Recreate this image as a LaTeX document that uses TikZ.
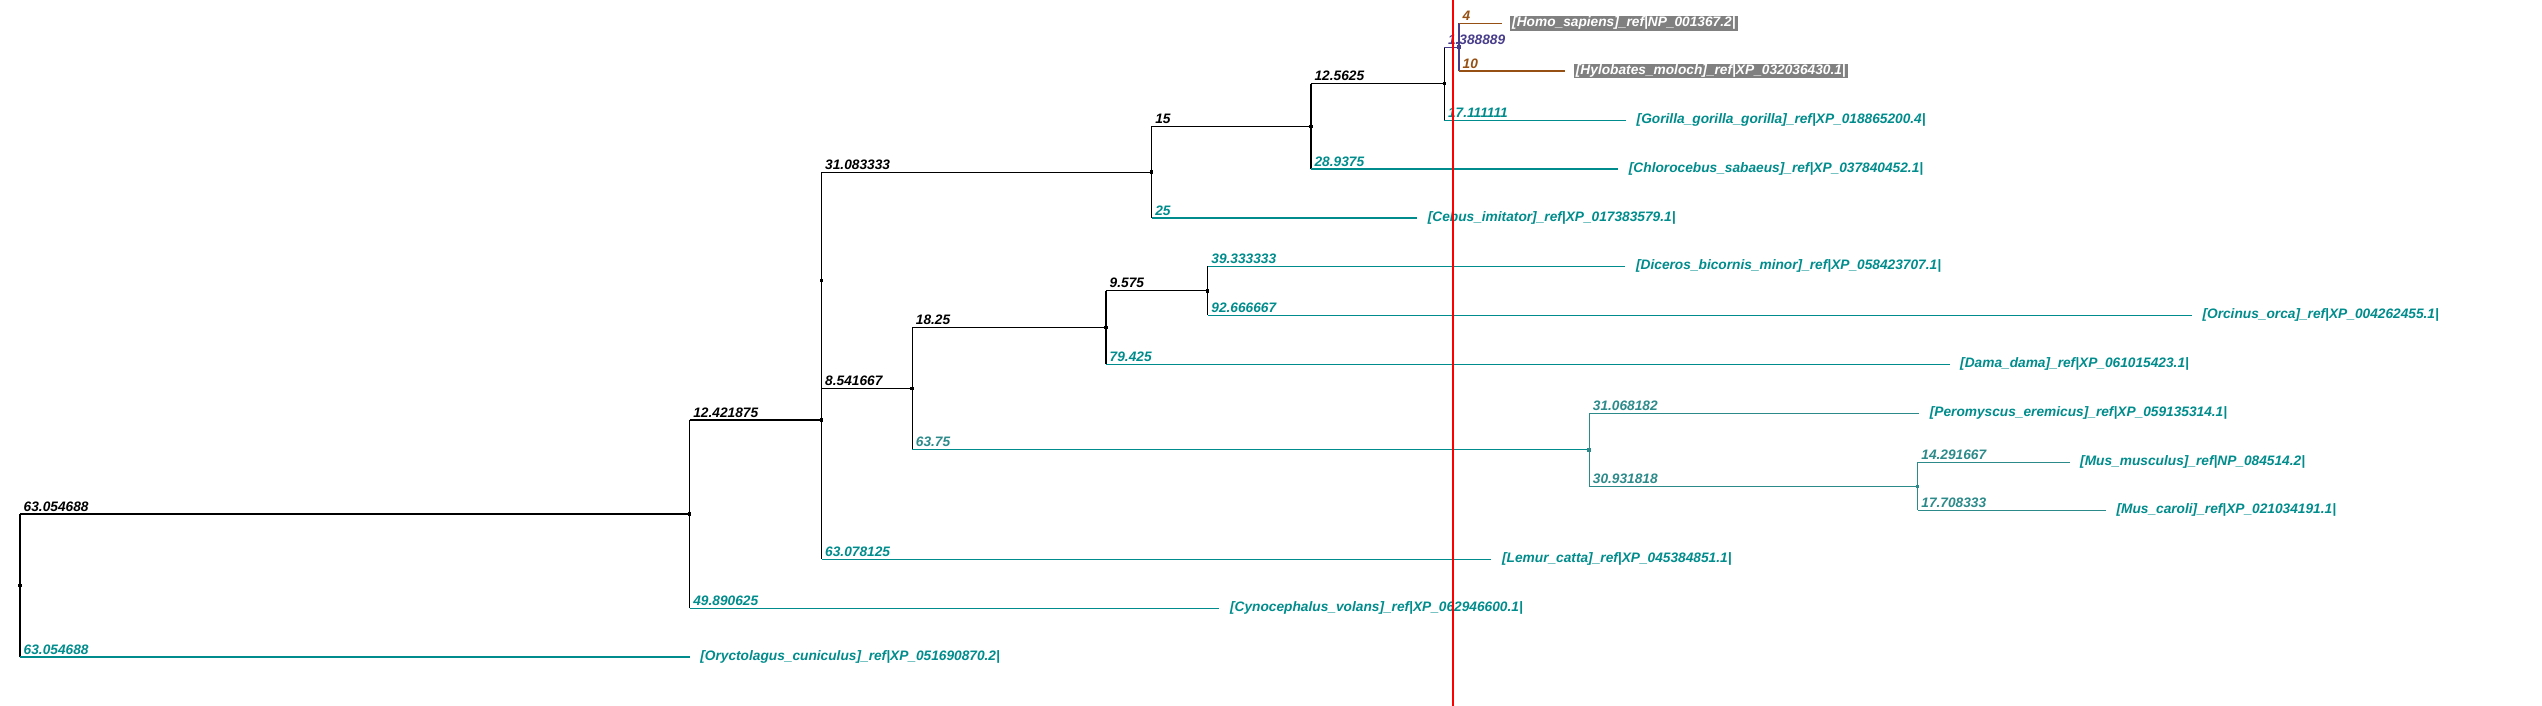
\documentclass[tikz,border=0pt]{standalone}
\usepackage{fontspec}
\setmainfont{Liberation Sans}
\usetikzlibrary{positioning}

\definecolor{leafteal}{RGB}{0,140,140}
\definecolor{mouseteal}{RGB}{45,138,138}
\definecolor{apebrown}{RGB}{150,80,20}
\definecolor{hominid}{RGB}{72,61,139}
\definecolor{tagbg}{RGB}{128,128,128}

\begin{document}
\begin{tikzpicture}[
    x=0.01cm, y=-0.01cm,
    font=\fontsize{3.9}{4.6}\selectfont\bfseries\itshape,
    blk/.style={draw=black, line width=0.35pt},
    tl/.style={draw=leafteal, line width=0.3pt},
    ms/.style={draw=mouseteal, line width=0.3pt},
    hm/.style={draw=hominid, line width=0.3pt},
    br/.style={draw=apebrown, line width=0.3pt},
    blab/.style={anchor=south west, inner xsep=0.03cm, inner ysep=0.02cm},
    leaf/.style={inner xsep=0.02cm, inner ysep=0.01cm, text=leafteal},
    tag/.style={leaf, fill=tagbg, text=white},
    ndot/.style={rectangle, fill=black, inner sep=0pt, minimum size=0.035cm},
    node distance=0.08cm,
]
    \useasboundingbox (0,0) rectangle (2542,706);

    % internal nodes
    \coordinate (root) at (20,585.6);
    \coordinate (n1)   at (689.6,514.1);
    \coordinate (n2)   at (821.5,419.9);
    \coordinate (n3)   at (821.5,280.5);
    \coordinate (n4)   at (1151.6,172.2);
    \coordinate (n5)   at (1310.9,126.4);
    \coordinate (n6)   at (1444.3,83.7);
    \coordinate (n10)  at (1459,47.2);
    \coordinate (n7)   at (912.2,388.7);
    \coordinate (n11)  at (1106,327.6);
    \coordinate (n12)  at (1207.7,290.8);
    \coordinate (n8)   at (1589.2,449.8);
    \coordinate (n9)   at (1917.7,486.3);

    % tips
    \coordinate (homo)   at (1501.5,23.3);
    \coordinate (hylo)   at (1565.2,71);
    \coordinate (gor)    at (1626,120.3);
    \coordinate (chloro) at (1618.2,169);
    \coordinate (cebus)  at (1417.1,218);
    \coordinate (dice)   at (1625.4,266.3);
    \coordinate (orca)   at (2191.8,315.3);
    \coordinate (dama)   at (1949.5,364.3);
    \coordinate (pero)   at (1919.1,413.3);
    \coordinate (musm)   at (2069.5,462.3);
    \coordinate (musc)   at (2105.8,510.3);
    \coordinate (lemur)  at (1491.4,559.3);
    \coordinate (cyno)   at (1219.4,608.3);
    \coordinate (oryct)  at (689.6,657);

    % verticals
    \draw[blk] (root |- n1) -- (root |- oryct);
    \draw[blk] (n1 |- n2) -- (n1 |- cyno);
    \draw[blk] (n2 |- n3) -- (n2 |- lemur);
    \draw[blk] (n3 |- n4) -- (n3 |- n7);
    \draw[blk] (n4 |- n5) -- (n4 |- cebus);
    \draw[blk] (n5 |- n6) -- (n5 |- chloro);
    \draw[blk] (n6 |- n10) -- (n6 |- gor);
    \draw[hm]  (n10 |- homo) -- (n10 |- hylo);
    \draw[blk] (n7 |- n11) -- (n7 |- n8);
    \draw[blk] (n11 |- n12) -- (n11 |- dama);
    \draw[blk] (n12 |- dice) -- (n12 |- orca);
    \draw[ms]  (n8 |- pero) -- (n8 |- n9);
    \draw[ms]  (n9 |- musm) -- (n9 |- musc);

    % horizontals
    \draw[blk] (root |- n1) -- (n1);
    \draw[tl]  (root |- oryct) -- (oryct);
    \draw[blk] (n1 |- n2) -- (n2);
    \draw[tl]  (n1 |- cyno) -- (cyno);
    \draw[tl]  (n2 |- lemur) -- (lemur);
    \draw[blk] (n3 |- n4) -- (n4);
    \draw[blk] (n3 |- n7) -- (n7);
    \draw[blk] (n4 |- n5) -- (n5);
    \draw[tl]  (n4 |- cebus) -- (cebus);
    \draw[blk] (n5 |- n6) -- (n6);
    \draw[tl]  (n5 |- chloro) -- (chloro);
    \draw[hm]  (n6 |- n10) -- (n10);
    \draw[tl]  (n6 |- gor) -- (gor);
    \draw[br]  (n10 |- homo) -- (homo);
    \draw[br]  (n10 |- hylo) -- (hylo);
    \draw[blk] (n7 |- n11) -- (n11);
    \draw[tl]  (n7 |- n8) -- (n8);
    \draw[blk] (n11 |- n12) -- (n12);
    \draw[tl]  (n11 |- dama) -- (dama);
    \draw[tl]  (n12 |- dice) -- (dice);
    \draw[tl]  (n12 |- orca) -- (orca);
    \draw[ms]  (n8 |- pero) -- (pero);
    \draw[ms]  (n8 |- n9) -- (n9);
    \draw[ms]  (n9 |- musm) -- (musm);
    \draw[ms]  (n9 |- musc) -- (musc);

    % node dots
    \node[ndot] (d0)  at (root) {};
    \node[ndot] (d1)  at (n1) {};
    \node[ndot] (d2)  at (n2) {};
    \node[ndot] (d3)  at (n3) {};
    \node[ndot] (d4)  at (n4) {};
    \node[ndot] (d5)  at (n5) {};
    \node[ndot] (d6)  at (n6) {};
    \node[ndot, fill=hominid] (d10) at (n10) {};
    \node[ndot] (d7)  at (n7) {};
    \node[ndot] (d11) at (n11) {};
    \node[ndot] (d12) at (n12) {};
    \node[ndot, fill=mouseteal] (d8) at (n8) {};
    \node[ndot, fill=mouseteal] (d9) at (n9) {};

    % branch lengths
    \node[blab]                  (b1)      at (root |- n1)    {63.054688};
    \node[blab, text=leafteal]   (boryct)  at (root |- oryct) {63.054688};
    \node[blab]                  (b2)      at (n1 |- n2)      {12.421875};
    \node[blab, text=leafteal]   (bcyno)   at (n1 |- cyno)    {49.890625};
    \node[blab, text=leafteal]   (blemur)  at (n2 |- lemur)   {63.078125};
    \node[blab]                  (b4)      at (n3 |- n4)      {31.083333};
    \node[blab]                  (b7)      at (n3 |- n7)      {8.541667};
    \node[blab]                  (b5)      at (n4 |- n5)      {15};
    \node[blab, text=leafteal]   (bcebus)  at (n4 |- cebus)   {25};
    \node[blab]                  (b6)      at (n5 |- n6)      {12.5625};
    \node[blab, text=leafteal]   (bchloro) at (n5 |- chloro)  {28.9375};
    \node[blab, text=hominid]    (b10)     at (n6 |- n10)     {1.388889};
    \node[blab, text=leafteal]   (bgor)    at (n6 |- gor)     {17.111111};
    \node[blab, text=apebrown]   (bhomo)   at (n10 |- homo)   {4};
    \node[blab, text=apebrown]   (bhylo)   at (n10 |- hylo)   {10};
    \node[blab]                  (b11)     at (n7 |- n11)     {18.25};
    \node[blab, text=mouseteal]  (b8)      at (n7 |- n8)      {63.75};
    \node[blab]                  (b12)     at (n11 |- n12)    {9.575};
    \node[blab, text=leafteal]   (bdama)   at (n11 |- dama)   {79.425};
    \node[blab, text=leafteal]   (bdice)   at (n12 |- dice)   {39.333333};
    \node[blab, text=leafteal]   (borca)   at (n12 |- orca)   {92.666667};
    \node[blab, text=mouseteal]  (bpero)   at (n8 |- pero)    {31.068182};
    \node[blab, text=mouseteal]  (b9)      at (n8 |- n9)      {30.931818};
    \node[blab, text=mouseteal]  (bmusm)   at (n9 |- musm)    {14.291667};
    \node[blab, text=mouseteal]  (bmusc)   at (n9 |- musc)    {17.708333};

    % leaf names
    \node[tag,  right=of homo]   (lhomo)   {[Homo\_sapiens]\_ref|NP\_001367.2|};
    \node[tag,  right=of hylo]   (lhylo)   {[Hylobates\_moloch]\_ref|XP\_032036430.1|};
    \node[leaf, right=of gor]    (lgor)    {[Gorilla\_gorilla\_gorilla]\_ref|XP\_018865200.4|};
    \node[leaf, right=of chloro] (lchloro) {[Chlorocebus\_sabaeus]\_ref|XP\_037840452.1|};
    \node[leaf, right=of cebus]  (lcebus)  {[Cebus\_imitator]\_ref|XP\_017383579.1|};
    \node[leaf, right=of dice]   (ldice)   {[Diceros\_bicornis\_minor]\_ref|XP\_058423707.1|};
    \node[leaf, right=of orca]   (lorca)   {[Orcinus\_orca]\_ref|XP\_004262455.1|};
    \node[leaf, right=of dama]   (ldama)   {[Dama\_dama]\_ref|XP\_061015423.1|};
    \node[leaf, right=of pero]   (lpero)   {[Peromyscus\_eremicus]\_ref|XP\_059135314.1|};
    \node[leaf, right=of musm]   (lmusm)   {[Mus\_musculus]\_ref|NP\_084514.2|};
    \node[leaf, right=of musc]   (lmusc)   {[Mus\_caroli]\_ref|XP\_021034191.1|};
    \node[leaf, right=of lemur]  (llemur)  {[Lemur\_catta]\_ref|XP\_045384851.1|};
    \node[leaf, right=of cyno]   (lcyno)   {[Cynocephalus\_volans]\_ref|XP\_062946600.1|};
    \node[leaf, right=of oryct]  (loryct)  {[Oryctolagus\_cuniculus]\_ref|XP\_051690870.2|};

    % cut line
    \coordinate (cuttop) at (1453,0);
    \coordinate (cutbot) at (1453,706);
    \draw[red, line width=0.3pt] (cuttop) -- (cutbot);
\end{tikzpicture}
\end{document}
